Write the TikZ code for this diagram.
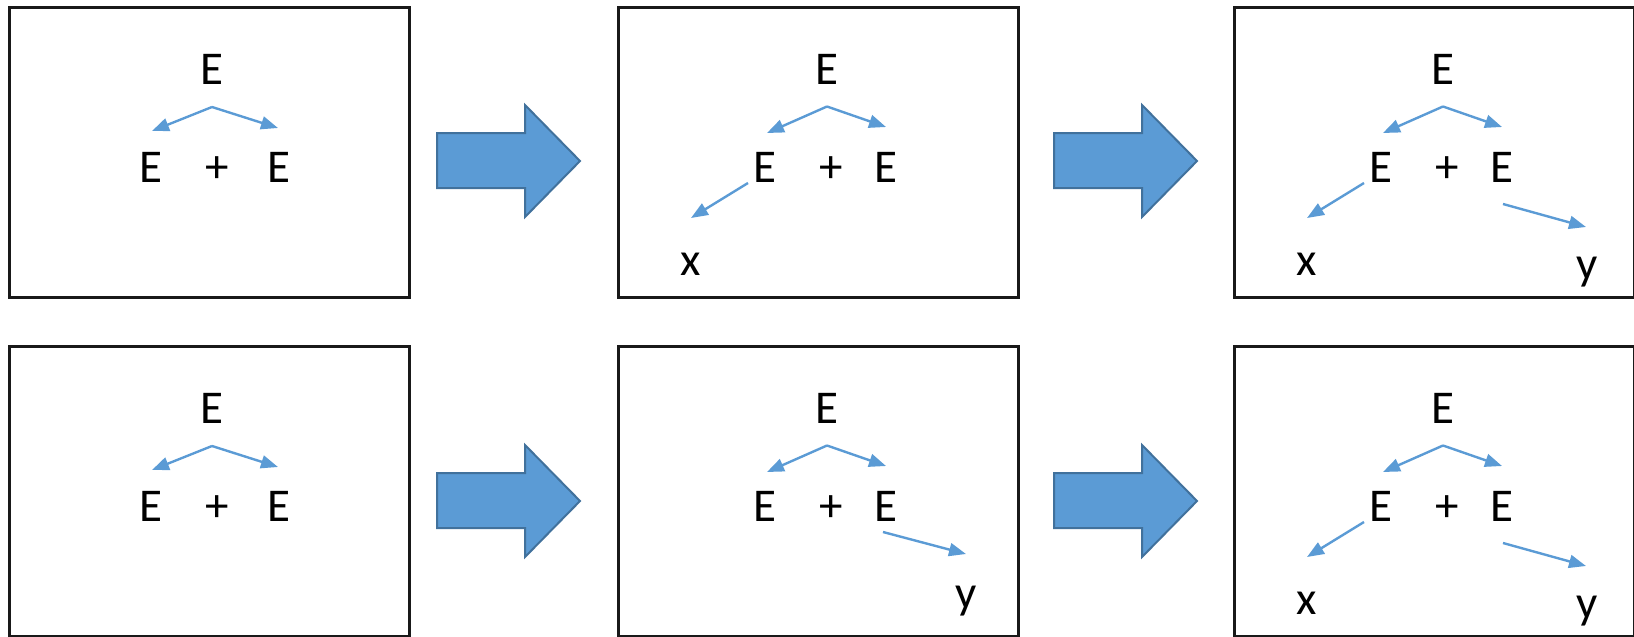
\documentclass[tikz,border=0pt]{standalone}
\usepackage{fontspec}
\setmainfont{Carlito}
\usetikzlibrary{arrows.meta}
\definecolor{accent}{HTML}{5B9BD5}
\definecolor{accentdark}{HTML}{41719C}
\begin{document}
\begin{tikzpicture}[x=1pt,y=-1pt,
  panel/.style={draw=black!90, line width=2.5pt, minimum width=400pt, minimum height=290pt, anchor=north west, inner sep=0pt},
  sym/.style={inner sep=0pt, anchor=base, font=\fontsize{47}{50}\selectfont},
  link/.style={draw=accent, line width=2.4pt, -{Triangle[length=17pt,width=13pt]}},
  fat/.style={fill=accent, draw=accentdark, line width=2pt, line join=miter}]
\useasboundingbox (0,0) rectangle (1634,637);

% frames
\node[panel] (box1) at (8,6) {};
\node[panel] (box2) at (617,6) {};
\node[panel] (box3) at (1233,6) {};
\node[panel] (box4) at (8,345) {};
\node[panel] (box5) at (617,345) {};
\node[panel] (box6) at (1233,345) {};

% block arrows
\foreach \dx/\dy in {0/0, 617/0, 0/340, 617/340}{
  \begin{scope}[shift={(\dx,\dy)}]
    \draw[fat] (437,133) -- (525,133) -- (525,105) -- (580,161) -- (525,217) -- (525,188) -- (437,188) -- cycle;
  \end{scope}
}

% panel 1
\begin{scope}[shift={(8,6)}]
  \node[sym] (p1E) at (204,78) {E};
  \node[sym] (p1L) at (143,176.5) {E};
  \node[sym] (p1plus) at (209.5,176.5) {+};
  \node[sym] (p1R) at (271,176.5) {E};
  \coordinate (p1apex) at (204,101);
  \coordinate (p1lt) at (144,125);
  \coordinate (p1rt) at (270,122);
  \draw[link] (p1apex) -- (p1lt);
  \draw[link] (p1apex) -- (p1rt);
\end{scope}

% panel 4
\begin{scope}[shift={(8,345)}]
  \node[sym] (p4E) at (204,78) {E};
  \node[sym] (p4L) at (143,176.5) {E};
  \node[sym] (p4plus) at (209.5,176.5) {+};
  \node[sym] (p4R) at (271,176.5) {E};
  \coordinate (p4apex) at (204,101);
  \coordinate (p4lt) at (144,125);
  \coordinate (p4rt) at (270,122);
  \draw[link] (p4apex) -- (p4lt);
  \draw[link] (p4apex) -- (p4rt);
\end{scope}

% panel 2
\begin{scope}[shift={(617,6)}]
  \node[sym] (p2E) at (209.5,78) {E};
  \node[sym] (p2L) at (147.5,176) {E};
  \node[sym] (p2plus) at (214,176) {+};
  \node[sym] (p2R) at (269,176) {E};
  \node[sym] (p2x) at (73.5,269) {x};
  \coordinate (p2apex) at (210,100.5);
  \coordinate (p2lt) at (150,127);
  \coordinate (p2rt) at (269,121);
  \coordinate (p2xs) at (131,177);
  \coordinate (p2xt) at (74,212);
  \draw[link] (p2apex) -- (p2lt);
  \draw[link] (p2apex) -- (p2rt);
  \draw[link] (p2xs) -- (p2xt);
\end{scope}

% panel 3
\begin{scope}[shift={(1233,6)}]
  \node[sym] (p3E) at (209.5,78) {E};
  \node[sym] (p3L) at (147.5,176) {E};
  \node[sym] (p3plus) at (214,176) {+};
  \node[sym] (p3R) at (269,176) {E};
  \node[sym] (p3x) at (73.5,269) {x};
  \node[sym] (p3y) at (354,273) {y};
  \coordinate (p3apex) at (210,100.5);
  \coordinate (p3lt) at (150,127);
  \coordinate (p3rt) at (269,121);
  \coordinate (p3xs) at (131,177);
  \coordinate (p3xt) at (74,212);
  \coordinate (p3ys) at (270,198);
  \coordinate (p3yt) at (353,221);
  \draw[link] (p3apex) -- (p3lt);
  \draw[link] (p3apex) -- (p3rt);
  \draw[link] (p3xs) -- (p3xt);
  \draw[link] (p3ys) -- (p3yt);
\end{scope}

% panel 5
\begin{scope}[shift={(617,345)}]
  \node[sym] (p5E) at (209.5,78) {E};
  \node[sym] (p5L) at (147.5,176) {E};
  \node[sym] (p5plus) at (214,176) {+};
  \node[sym] (p5R) at (269,176) {E};
  \node[sym] (p5y) at (349,263) {y};
  \coordinate (p5apex) at (210,100.5);
  \coordinate (p5lt) at (150,127);
  \coordinate (p5rt) at (269,121);
  \coordinate (p5ys) at (266,187);
  \coordinate (p5yt) at (349,209);
  \draw[link] (p5apex) -- (p5lt);
  \draw[link] (p5apex) -- (p5rt);
  \draw[link] (p5ys) -- (p5yt);
\end{scope}

% panel 6
\begin{scope}[shift={(1233,345)}]
  \node[sym] (p6E) at (209.5,78) {E};
  \node[sym] (p6L) at (147.5,176) {E};
  \node[sym] (p6plus) at (214,176) {+};
  \node[sym] (p6R) at (269,176) {E};
  \node[sym] (p6x) at (73.5,269) {x};
  \node[sym] (p6y) at (354,273) {y};
  \coordinate (p6apex) at (210,100.5);
  \coordinate (p6lt) at (150,127);
  \coordinate (p6rt) at (269,121);
  \coordinate (p6xs) at (131,177);
  \coordinate (p6xt) at (74,212);
  \coordinate (p6ys) at (270,198);
  \coordinate (p6yt) at (353,221);
  \draw[link] (p6apex) -- (p6lt);
  \draw[link] (p6apex) -- (p6rt);
  \draw[link] (p6xs) -- (p6xt);
  \draw[link] (p6ys) -- (p6yt);
\end{scope}
\end{tikzpicture}
\end{document}
